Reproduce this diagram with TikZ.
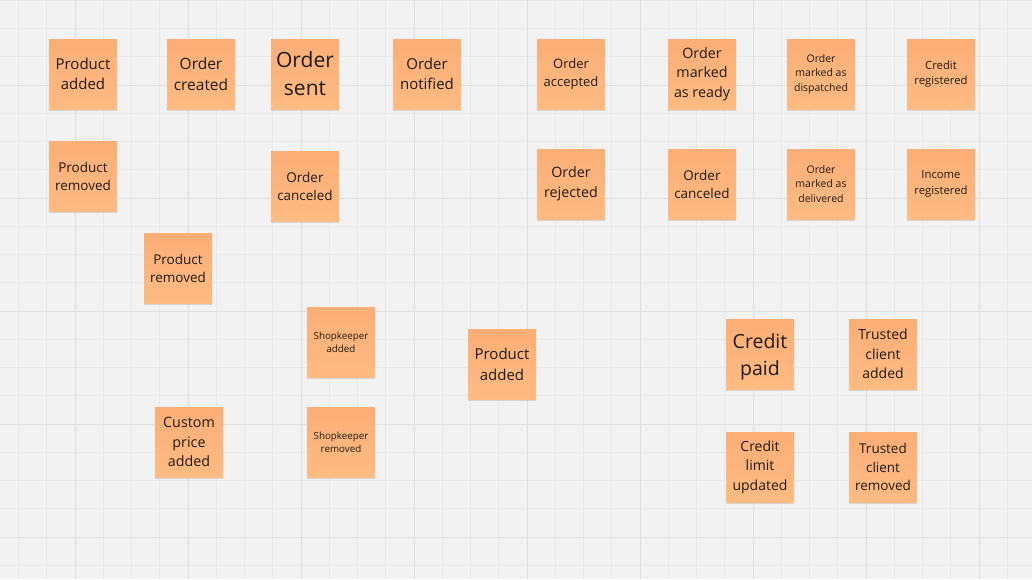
\documentclass[tikz,border=0pt]{standalone}
\usepackage{fontspec}
\setmainfont{Open Sans}
\usetikzlibrary{shadows}
\definecolor{bgc}{RGB}{242,242,242}
\definecolor{minorc}{RGB}{233,233,233}
\definecolor{majorc}{RGB}{222,222,222}
\definecolor{notetop}{RGB}{251,174,118}
\definecolor{notebot}{RGB}{255,187,130}
\definecolor{inkc}{RGB}{30,28,26}
\tikzset{
  minorline/.style={minorc, line width=0.7pt},
  majorline/.style={majorc, line width=1pt},
  sticky/.style={rectangle, minimum width=68pt, minimum height=70pt, inner sep=0pt,
    top color=notetop, bottom color=notebot, text=inkc, align=center,
    drop shadow={shadow xshift=0pt, shadow yshift=-2pt, opacity=0.12, fill=black}},
  notetext/.style={inner sep=0pt, text=inkc, align=center},
  fsA/.style={font=\fontsize{15}{20}\selectfont},
  fsB/.style={font=\fontsize{13.5}{18}\selectfont},
  fsC/.style={font=\fontsize{11.3}{15.5}\selectfont},
  fsD/.style={font=\fontsize{10.5}{14.5}\selectfont},
  fsE/.style={font=\fontsize{9.8}{13.3}\selectfont},
  fsBig/.style={font=\fontsize{21}{28}\selectfont},
  fsCP/.style={font=\fontsize{19.5}{27}\selectfont},
  fsM/.style={font=\fontsize{14.3}{19.5}\selectfont},
}
\begin{document}
\begin{tikzpicture}[x=1pt,y=-1pt]
\useasboundingbox (0,0) rectangle (1032,579);
\fill[bgc] (0,0) rectangle (1032,579);
\foreach \i in {0,...,36} {\draw[minorline] ({18.5+28.25*\i},0) -- ++(0,579);}
\foreach \i in {0,...,20} {\draw[minorline] (0,{0.25+28.25*\i}) -- ++(1032,0);}
\foreach \i in {0,...,8} {\draw[majorline] ({75+113*\i},0) -- ++(0,579);}
\foreach \i in {0,...,4} {\draw[majorline] (0,{85+113*\i}) -- ++(1032,0);}

% row 1
\node[sticky,fsA] (pa1) at (83,74) {Product\\added};
\node[sticky,fsA,font=\fontsize{15.5}{21}\selectfont] (oc) at (201,74) {Order\\created};
\node[sticky,fsBig] (os) at (305,74) {Order\\sent};
\node[sticky,fsA] (on) at (427,74) {Order\\notified};
\node[sticky,fsB,font=\fontsize{13}{18}\selectfont] (oa) at (571,74) {Order\\accepted};
\node[sticky,fsM] (omr) at (702,74) {Order\\marked\\as ready};
\node[sticky,fsD] (omd) at (821,74) {Order\\marked as\\dispatched};
\node[sticky,fsC] (cr) at (941,74) {Credit\\registered};
% row 2
\node[sticky,fsB] (pr1) at (83,176) {Product\\removed};
\node[sticky,fsB] (ocl1) at (305,186) {Order\\canceled};
\node[sticky,fsM,font=\fontsize{14.3}{20}\selectfont] (orj) at (571,184) {Order\\rejected};
\node[sticky,fsB] (ocl2) at (702,184) {Order\\canceled};
\node[sticky,fsD] (omdl) at (821,184) {Order\\marked as\\delivered};
\node[sticky,fsC] (ir) at (941,184) {Income\\registered};
% lower
\node[sticky,fsB] (pr2) at (178,268) {Product\\removed};
\node[sticky,fsE] (sa) at (341,342) {Shopkeeper\\added};
\node[sticky,fsA,font=\fontsize{15}{21}\selectfont] (pa2) at (502,364) {Product\\added};
\node[sticky,fsM] (cpa) at (189,442) {Custom\\price\\added};
\node[sticky,fsE] (sr) at (341,442) {Shopkeeper\\removed};
\node[sticky] (cp) at (760,354) {};
\node[notetext,fsCP] (cptext) at (760,356.5) {Credit\\paid};
\node[sticky,fsM,font=\fontsize{14}{19.5}\selectfont] (tca) at (883,354) {Trusted\\client\\added};
\node[sticky,fsM,font=\fontsize{14}{19.5}\selectfont] (clu) at (760,467) {Credit\\limit\\updated};
\node[sticky,fsM,font=\fontsize{13.5}{18.5}\selectfont] (tcr) at (883,467) {Trusted\\client\\removed};
\end{tikzpicture}
\end{document}
